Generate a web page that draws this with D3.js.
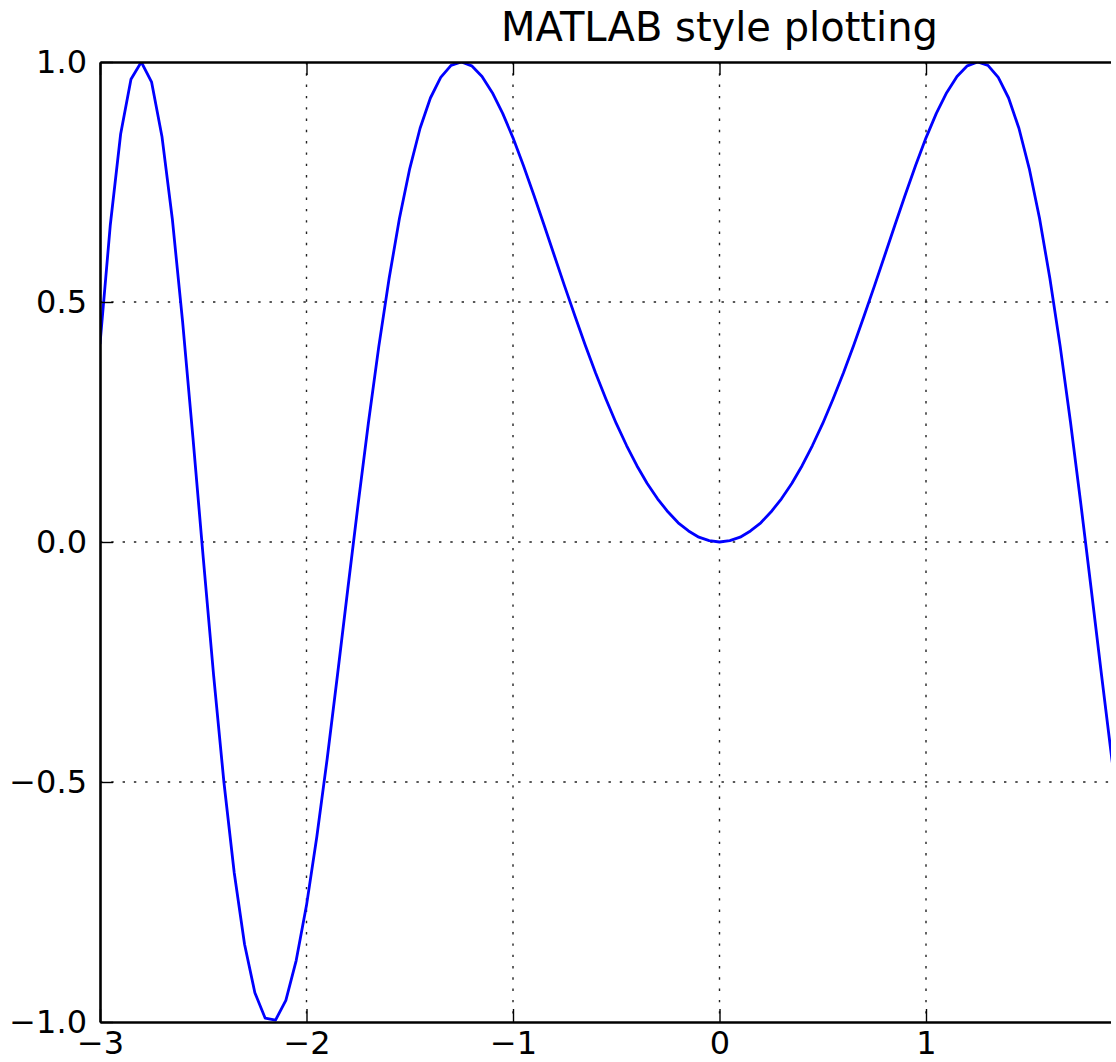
<!DOCTYPE html>
<html>
<head>
<meta charset="utf-8">
<script src="https://cdn.jsdelivr.net/npm/d3@7"></script>
<style>
  html, body { margin: 0; padding: 0; background: #fff; overflow: hidden; }
  svg { display: block; }
  text { font-family: "DejaVu Sans", sans-serif; fill: #000; }
</style>
</head>
<body>
<svg id="chart" width="1111" height="1062"></svg>
<script>
// ---- data ----
const xValues = [-3.00,-2.95,-2.90,-2.85,-2.80,-2.75,-2.70,-2.65,-2.60,-2.55,
  -2.50,-2.45,-2.40,-2.35,-2.30,-2.25,-2.20,-2.15,-2.10,-2.05,
  -2.00,-1.95,-1.90,-1.85,-1.80,-1.75,-1.70,-1.65,-1.60,-1.55,
  -1.50,-1.45,-1.40,-1.35,-1.30,-1.25,-1.20,-1.15,-1.10,-1.05,
  -1.00,-0.95,-0.90,-0.85,-0.80,-0.75,-0.70,-0.65,-0.60,-0.55,
  -0.50,-0.45,-0.40,-0.35,-0.30,-0.25,-0.20,-0.15,-0.10,-0.05,
  0.00,0.05,0.10,0.15,0.20,0.25,0.30,0.35,0.40,0.45,
  0.50,0.55,0.60,0.65,0.70,0.75,0.80,0.85,0.90,0.95,
  1.00,1.05,1.10,1.15,1.20,1.25,1.30,1.35,1.40,1.45,
  1.50,1.55,1.60,1.65,1.70,1.75,1.80,1.85,1.90,1.95];
const yValues = [0.412,0.661,0.850,0.964,1.000,0.958,0.845,0.674,0.459,0.218,
  -0.033,-0.277,-0.500,-0.689,-0.838,-0.939,-0.992,-0.996,-0.955,-0.872,
  -0.757,-0.614,-0.452,-0.277,-0.098,0.079,0.249,0.407,0.549,0.674,
  0.778,0.862,0.925,0.968,0.993,1.000,0.992,0.970,0.936,0.893,
  0.842,0.785,0.724,0.661,0.597,0.533,0.471,0.410,0.352,0.298,
  0.247,0.201,0.159,0.122,0.090,0.063,0.040,0.023,0.010,0.003,
  0.000,0.003,0.010,0.023,0.040,0.063,0.090,0.122,0.159,0.201,
  0.247,0.298,0.352,0.410,0.471,0.533,0.597,0.661,0.724,0.785,
  0.842,0.893,0.936,0.970,0.992,1.000,0.993,0.968,0.925,0.862,
  0.778,0.674,0.549,0.407,0.249,0.079,-0.098,-0.277,-0.452,-0.614];
const xTicks = [-3, -2, -1, 0, 1];
const yTicks = [-1.0, -0.5, 0.0, 0.5, 1.0];
const xDomain = [-3, 3];
const yDomain = [-1, 1];
const titleText = "MATLAB style plotting";

// ---- layout ----
const pL = 100, pR = 1339, pT = 62, pB = 1022;
const svg = d3.select("#chart");
const x = d3.scaleLinear().domain(xDomain).range([pL, pR]);
const y = d3.scaleLinear().domain(yDomain).range([pB, pT]);
const fmtMinus = s => s.replace("-", "\u2212");

svg.append("rect").attr("width", 1111).attr("height", 1062).attr("fill", "#fff");

// grid
const grid = svg.append("g");
grid.selectAll("line.gx").data(xTicks.filter(t => t > xDomain[0] && t < xDomain[1]))
  .join("line").attr("class", "gx")
  .attr("x1", d => x(d)).attr("x2", d => x(d)).attr("y1", pT).attr("y2", pB)
  .attr("stroke", "#222").attr("stroke-width", 1.4).attr("stroke-dasharray", "2.4,8.9");
grid.selectAll("line.gy").data(yTicks.filter(t => t > yDomain[0] && t < yDomain[1]))
  .join("line").attr("class", "gy")
  .attr("y1", d => y(d)).attr("y2", d => y(d)).attr("x1", pL).attr("x2", pR)
  .attr("stroke", "#222").attr("stroke-width", 1.4).attr("stroke-dasharray", "2.4,8.9");

// clip
svg.append("clipPath").attr("id", "clip").append("rect")
  .attr("x", pL).attr("y", pT).attr("width", pR - pL).attr("height", pB - pT);

// line
const data = xValues.map((v, i) => [v, yValues[i]]);
svg.append("path").datum(data)
  .attr("clip-path", "url(#clip)")
  .attr("fill", "none").attr("stroke", "#0000ff").attr("stroke-width", 2.8)
  .attr("stroke-linejoin", "round")
  .attr("d", d3.line().x(d => x(d[0])).y(d => y(d[1])));

// axes (ticks inside, classic style)
const tickLen = 13;
const axB = svg.append("g").attr("transform", `translate(0,${pB})`)
  .call(d3.axisBottom(x).tickValues(xTicks).tickSizeInner(-tickLen).tickSizeOuter(0)
    .tickPadding(9).tickFormat(d => fmtMinus(d3.format("d")(d))));
const axT = svg.append("g").attr("transform", `translate(0,${pT})`)
  .call(d3.axisTop(x).tickValues(xTicks).tickSizeInner(-tickLen).tickSizeOuter(0).tickFormat(""));
const axL = svg.append("g").attr("transform", `translate(${pL},0)`)
  .call(d3.axisLeft(y).tickValues(yTicks).tickSizeInner(-tickLen).tickSizeOuter(0)
    .tickPadding(13).tickFormat(d => fmtMinus(d3.format(".1f")(d))));

[axB, axT, axL].forEach(a => {
  a.select(".domain").attr("stroke", "#000").attr("stroke-width", 2.6);
  a.selectAll(".tick line").attr("stroke", "#000").attr("stroke-width", 1.4);
  a.selectAll(".tick text").attr("font-size", 32).attr("font-family", "DejaVu Sans").attr("fill", "#000");
});
axB.selectAll(".tick text").attr("dy", "0.71em");

// title
svg.append("text").attr("x", x(0)).attr("y", 41).attr("text-anchor", "middle")
  .attr("font-size", 40).text(titleText);
</script>
</body>
</html>
